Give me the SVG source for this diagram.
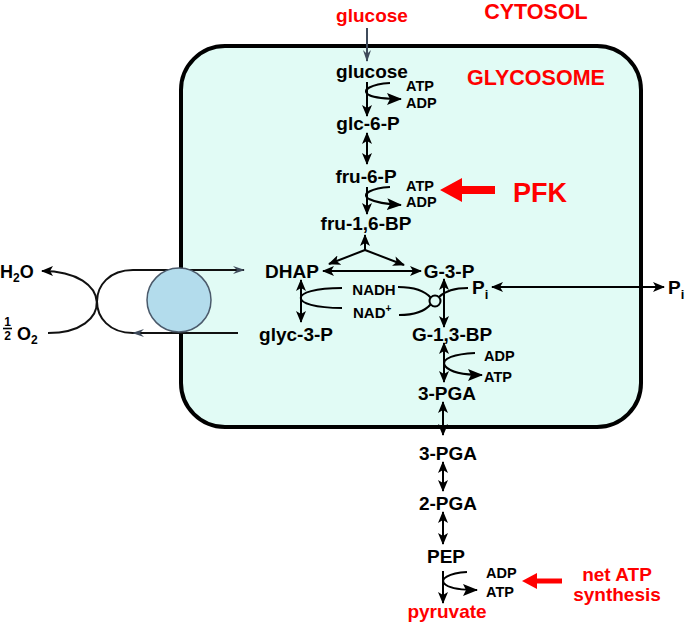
<svg xmlns="http://www.w3.org/2000/svg" width="685" height="627" viewBox="0 0 685 627">
<style>
text{font-family:"Liberation Sans",Arial,sans-serif;font-weight:bold;fill:#000}
.red{fill:#ff0000}
.m{font-size:19px;text-anchor:middle}
.s{font-size:14.5px}
.ln{fill:none;stroke:#000;stroke-width:2}
.dbl{marker-start:url(#ah);marker-end:url(#ah)}
.one{marker-end:url(#ah)}
.cv{fill:none;stroke:#000;stroke-width:2;marker-end:url(#big)}
.sl{fill:none;stroke:#111;stroke-width:2}
</style>
<defs>
<marker id="ah" markerUnits="userSpaceOnUse" markerWidth="12" markerHeight="10" refX="11" refY="5" orient="auto-start-reverse" viewBox="0 0 12 10">
<path d="M0,0 L12,5 L0,10 L3,5 z" fill="#000"/>
</marker>
<marker id="big" markerUnits="userSpaceOnUse" markerWidth="15" markerHeight="12" refX="14" refY="6" orient="auto" viewBox="0 0 15 12">
<path d="M0,0 L15,6 L0,12 L3,6 z" fill="#000"/>
</marker>
<marker id="sa" markerUnits="userSpaceOnUse" markerWidth="12" markerHeight="10" refX="11" refY="5" orient="auto-start-reverse" viewBox="0 0 12 10">
<path d="M0,1 L12,5 L0,9 L4,5 z" fill="#3f4b5b"/>
</marker>
</defs>

<g id="glycosome">
<rect x="181" y="46" width="460" height="381" rx="44" fill="#e1fbf5" stroke="#000" stroke-width="4"/>
</g>

<g id="labels">
<text class="red" x="372" y="22" font-size="19" text-anchor="middle">glucose</text>
<text class="red" x="536" y="19" font-size="21.5" text-anchor="middle">CYTOSOL</text>
<text class="red" x="536" y="85" font-size="21.5" text-anchor="middle">GLYCOSOME</text>
</g>

<g id="connectors">
<line x1="367" y1="28" x2="367" y2="61" stroke="#3f4b5b" stroke-width="2" marker-end="url(#sa)"/>
<line class="ln one" x1="367" y1="82" x2="367" y2="116"/>
<path class="cv" d="M390,83 C372,84 360,90 369,95 C375,98 384,99 401,99"/>
<line class="ln dbl" x1="367" y1="133" x2="367" y2="164"/>
<line class="ln one" x1="367" y1="187" x2="367" y2="214"/>
<path class="cv" d="M390,187 C372,188 360,194 369,199 C375,202 384,204 401,205"/>
<line class="ln one" x1="365" y1="251" x2="365" y2="235"/>
<line class="ln one" x1="365" y1="250" x2="329" y2="264"/>
<line class="ln one" x1="365" y1="250" x2="404" y2="265"/>
<line class="ln dbl" x1="323" y1="271" x2="421" y2="271"/>
<line class="ln dbl" x1="301" y1="280" x2="301" y2="322"/>
<line class="ln dbl" x1="444" y1="279" x2="444" y2="327"/>
<path class="ln" d="M342,288 C287,288 287,308 342,308"/>
<path class="ln" d="M398,287 C418,287 426,292 431,298"/>
<path class="ln" d="M399,315 C418,315 426,310 431,304"/>
<path class="ln" d="M439,297 C446,290 456,288 468,288"/>
<circle cx="435" cy="301" r="5.5" fill="#e1fbf5" stroke="#000" stroke-width="2"/>
<line class="ln dbl" x1="492" y1="287" x2="664" y2="287"/>
<line class="ln dbl" x1="444" y1="343" x2="444" y2="382"/>
<path class="cv" d="M475,353 C456,354 440,358 445,366 C450,372 463,375 482,375"/>
<line class="ln dbl" x1="443" y1="402" x2="443" y2="435"/>
<line class="ln dbl" x1="443" y1="462" x2="443" y2="491"/>
<line class="ln dbl" x1="443" y1="512" x2="443" y2="544"/>
<line class="ln one" x1="443" y1="571" x2="443" y2="603"/>
<path class="cv" d="M467,572 C450,573 437,579 446,585 C452,589 462,590 477,590"/>
<line class="sl" x1="238" y1="333" x2="133" y2="333" marker-end="url(#sa)"/>
<path class="sl" d="M133,333 C85,333 85,270 133,270 L244,270" marker-end="url(#sa)"/>
<path class="sl" d="M42,271 C114,271 114,333 48,333" marker-start="url(#ah)"/>
<polygon points="440,190 462,178 462,186 495,186 495,194 462,194 462,202" fill="#ff0000"/>
<polygon points="522,581 537,573 537,578.5 562,578.5 562,583.5 537,583.5 537,589" fill="#ff0000"/>
</g>

<g id="transporter">
<circle cx="179" cy="300" r="32" fill="#b3dcec" stroke="#4b5a6b" stroke-width="1.5"/>
</g>

<g id="n-glucose"><text class="m" x="372" y="78">glucose</text></g>
<g id="n-atp1"><text class="s" x="406" y="91">ATP</text><text class="s" x="406" y="108">ADP</text></g>
<g id="n-glc6p"><text class="m" x="368" y="130">glc-6-P</text></g>
<g id="n-fru6p"><text class="m" x="366" y="183">fru-6-P</text></g>
<g id="n-atp2"><text class="s" x="406" y="191">ATP</text><text class="s" x="406" y="207">ADP</text></g>
<g id="n-pfk"><text class="red" x="513" y="202" font-size="27">PFK</text></g>
<g id="n-fru16bp"><text class="m" x="366" y="230">fru-1,6-BP</text></g>
<g id="n-dhap"><text class="m" x="292" y="278">DHAP</text></g>
<g id="n-g3p"><text class="m" x="449" y="278">G-3-P</text></g>
<g id="n-nadh"><text x="374" y="295" font-size="15" text-anchor="middle">NADH</text>
<text x="353" y="318" font-size="15">NAD<tspan font-size="10" dy="-6">+</tspan></text></g>
<g id="n-glyc3p"><text class="m" x="296" y="341">glyc-3-P</text></g>
<g id="n-pi"><text x="472" y="294" font-size="19">P<tspan font-size="13" dy="5">i</tspan></text></g>
<g id="n-pi-out"><text x="668" y="294" font-size="19">P<tspan font-size="13" dy="5">i</tspan></text></g>
<g id="n-g13bp"><text class="m" x="452" y="341">G-1,3-BP</text></g>
<g id="n-atp3"><text class="s" x="484" y="361">ADP</text><text class="s" x="484" y="382">ATP</text></g>
<g id="n-3pga-in"><text class="m" x="447" y="400">3-PGA</text></g>
<g id="n-3pga-out"><text class="m" x="448" y="460">3-PGA</text></g>
<g id="n-2pga"><text class="m" x="448" y="510">2-PGA</text></g>
<g id="n-pep"><text class="m" x="446" y="563">PEP</text></g>
<g id="n-atp4"><text class="s" x="486" y="578">ADP</text><text class="s" x="486" y="597">ATP</text></g>
<g id="n-pyruvate"><text class="red m" x="447" y="618">pyruvate</text></g>
<g id="n-net"><text class="red m" x="617" y="581">net ATP</text><text class="red m" x="617" y="601">synthesis</text></g>
<g id="n-h2o"><text x="0" y="278" font-size="18">H<tspan font-size="12" dy="4">2</tspan><tspan dy="-4">O</tspan></text></g>
<g id="n-o2">
<text x="7.5" y="326" font-size="12" text-anchor="middle">1</text>
<line x1="3" y1="328.5" x2="12" y2="328.5" stroke="#000" stroke-width="1.6"/>
<text x="7.5" y="340" font-size="12" text-anchor="middle">2</text>
<text x="17" y="340" font-size="18">O<tspan font-size="12" dy="4">2</tspan></text>
</g>
</svg>
